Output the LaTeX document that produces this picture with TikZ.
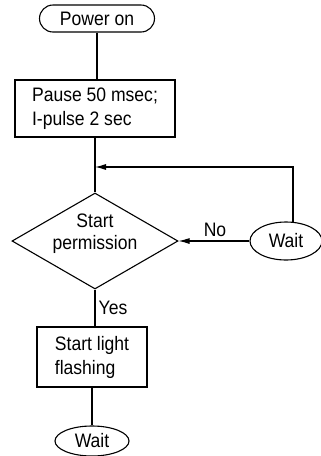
\documentclass[tikz,border=0pt]{standalone}
\usepackage{fontspec}
\setmainfont{Liberation Sans}[FakeStretch=0.9]
\usetikzlibrary{arrows.meta,shapes.geometric}

\begin{document}
\begin{tikzpicture}[
  x=1pt, y=-1pt,
  line width=1.1pt,
  every node/.style={font=\fontsize{19.5}{24}\selectfont, inner sep=0pt},
  terminal/.style={draw, rounded corners=13.5pt, minimum width=115pt, minimum height=27pt},
  waitnode/.style={draw, ellipse, minimum width=72pt, minimum height=38pt},
  process/.style={draw, align=left, minimum height=60pt},
  decision/.style={draw, diamond, minimum width=166pt, minimum height=96pt},
  flow/.style={-{Latex[length=11pt,width=6pt]}}
]
\useasboundingbox (0,0) rectangle (321,456);

\node[terminal] (power) at (97,18.5) {Power on};
\node[process, minimum width=160pt, minimum height=57pt] (pause) at (95,108.5) {Pause 50 msec;\\I-pulse 2 sec};
\node[decision] (perm) at (95,241) {};
\node[align=center, font=\fontsize{19.5}{22}\selectfont] (permtext) at (95,234) {Start\\permission};
\node[waitnode] (waitR) at (286,241) {Wait};
\node[process, minimum width=110pt] (flash) at (92,357) {Start light\\flashing};
\node[waitnode, minimum width=74pt, minimum height=30pt] (waitB) at (92,441) {Wait};
\node (no) at (215,230) {No};
\node (yes) at (113,308) {Yes};
\coordinate (loop) at (95,167);

% main column
\draw (power.south) -- (power.south |- pause.north);
\draw (pause.south) -- (perm.north);
\draw (perm.south) -- (perm.south |- flash.north);
\draw (flash.south) -- (waitB.north);

% no branch and loop back
\draw[flow] (waitR.west) -- (perm.east);
\draw[flow] (waitR.70) |- (loop);
\end{tikzpicture}
\end{document}
